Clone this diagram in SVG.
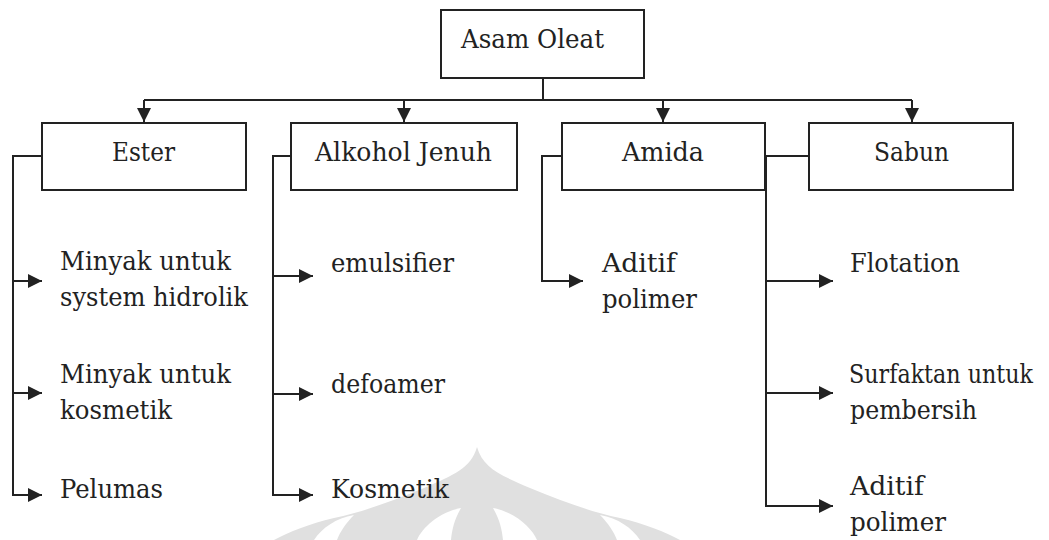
<svg xmlns="http://www.w3.org/2000/svg" width="1049" height="540" viewBox="0 0 1049 540">
  <style>
    .box { fill: #ffffff; stroke: #222222; stroke-width: 2; }
    .lbl { font-family: 'DejaVu Serif', serif; font-size: 26px; fill: #222222; }
    .con { fill: none; stroke: #222222; stroke-width: 2; }
    .arr { marker-end: url(#ah); }
    .wm { fill: #e0e0e0; stroke: none; }
    .gap { fill: #ffffff; stroke: none; }
  </style>
  <defs>
    <marker id="ah" markerUnits="userSpaceOnUse" markerWidth="15" markerHeight="14" refX="14" refY="7" orient="auto">
      <path d="M0,0 L14,7 L0,14 Z" fill="#222222"/>
    </marker>
  </defs>
  <rect width="1049" height="540" fill="#ffffff"/>

  <g id="watermark">
    <path class="wm" d="M477,447 C483,468 500,475 530,488 C560,500 590,512 620,518 C645,524 665,532 680,540 L274,540 C289,532 309,524 334,518 C364,512 394,500 424,488 C454,475 471,468 477,447 Z"/>
    <path class="gap" d="M493,508 C500,520 502,530 503,540 L537,540 C532,528 515,512 493,508 Z"/>
    <path class="gap" d="M461,508 C454,520 452,530 451,540 L417,540 C422,528 439,512 461,508 Z"/>
    <path class="gap" d="M600,515 C608,523 614,532 617,540 L640,540 C632,528 618,518 600,515 Z"/>
    <path class="gap" d="M354,515 C346,523 340,532 337,540 L314,540 C322,528 336,518 354,515 Z"/>
  </g>

  <g id="connectors">
    <path class="con" d="M543,78 V100"/>
    <path class="con" d="M144,100 H912"/>
    <path class="con arr" d="M144,100 V122"/>
    <path class="con arr" d="M404,100 V122"/>
    <path class="con arr" d="M663,100 V122"/>
    <path class="con arr" d="M912,100 V122"/>

    <path class="con arr" d="M42,156 H13 V495 H42"/>
    <path class="con arr" d="M13,281 H42"/>
    <path class="con arr" d="M13,393 H42"/>

    <path class="con arr" d="M291,156 H273 V495 H313"/>
    <path class="con arr" d="M273,276 H313"/>
    <path class="con arr" d="M273,394 H313"/>

    <path class="con arr" d="M562,156 H542 V281 H583"/>

    <path class="con arr" d="M809,156 H766 V506 H833"/>
    <path class="con arr" d="M766,281 H833"/>
    <path class="con arr" d="M766,393 H833"/>
  </g>

  <g id="asam-oleat">
    <rect class="box" x="441" y="10" width="203" height="68"/>
    <text class="lbl" x="461" y="48" textLength="143" lengthAdjust="spacingAndGlyphs">Asam Oleat</text>
  </g>
  <g id="ester">
    <rect class="box" x="42" y="123" width="204" height="67"/>
    <text class="lbl" x="112" y="161" textLength="63" lengthAdjust="spacingAndGlyphs">Ester</text>
  </g>
  <g id="alkohol-jenuh">
    <rect class="box" x="291" y="123" width="226" height="67"/>
    <text class="lbl" x="315" y="161" textLength="177" lengthAdjust="spacingAndGlyphs">Alkohol Jenuh</text>
  </g>
  <g id="amida">
    <rect class="box" x="562" y="123" width="203" height="67"/>
    <text class="lbl" x="622" y="161" textLength="82" lengthAdjust="spacingAndGlyphs">Amida</text>
  </g>
  <g id="sabun">
    <rect class="box" x="809" y="123" width="204" height="67"/>
    <text class="lbl" x="874" y="161" textLength="75" lengthAdjust="spacingAndGlyphs">Sabun</text>
  </g>

  <g id="minyak-hidrolik">
    <text class="lbl" x="60" y="270" textLength="171" lengthAdjust="spacingAndGlyphs">Minyak untuk</text>
    <text class="lbl" x="60" y="306" textLength="188" lengthAdjust="spacingAndGlyphs">system hidrolik</text>
  </g>
  <g id="minyak-kosmetik">
    <text class="lbl" x="60" y="383" textLength="171" lengthAdjust="spacingAndGlyphs">Minyak untuk</text>
    <text class="lbl" x="60" y="419" textLength="112" lengthAdjust="spacingAndGlyphs">kosmetik</text>
  </g>
  <g id="pelumas">
    <text class="lbl" x="60" y="498" textLength="103" lengthAdjust="spacingAndGlyphs">Pelumas</text>
  </g>

  <g id="emulsifier">
    <text class="lbl" x="331" y="272" textLength="123" lengthAdjust="spacingAndGlyphs">emulsifier</text>
  </g>
  <g id="defoamer">
    <text class="lbl" x="331" y="393" textLength="114" lengthAdjust="spacingAndGlyphs">defoamer</text>
  </g>
  <g id="kosmetik">
    <text class="lbl" x="331" y="498" textLength="118" lengthAdjust="spacingAndGlyphs">Kosmetik</text>
  </g>

  <g id="aditif-polimer-amida">
    <text class="lbl" x="602" y="272" textLength="74" lengthAdjust="spacingAndGlyphs">Aditif</text>
    <text class="lbl" x="602" y="308" textLength="95" lengthAdjust="spacingAndGlyphs">polimer</text>
  </g>

  <g id="flotation">
    <text class="lbl" x="850" y="272" textLength="110" lengthAdjust="spacingAndGlyphs">Flotation</text>
  </g>
  <g id="surfaktan">
    <text class="lbl" x="849" y="383" textLength="184" lengthAdjust="spacingAndGlyphs">Surfaktan untuk</text>
    <text class="lbl" x="850" y="419" textLength="127" lengthAdjust="spacingAndGlyphs">pembersih</text>
  </g>
  <g id="aditif-polimer-sabun">
    <text class="lbl" x="850" y="495" textLength="74" lengthAdjust="spacingAndGlyphs">Aditif</text>
    <text class="lbl" x="850" y="531" textLength="96" lengthAdjust="spacingAndGlyphs">polimer</text>
  </g>
</svg>
